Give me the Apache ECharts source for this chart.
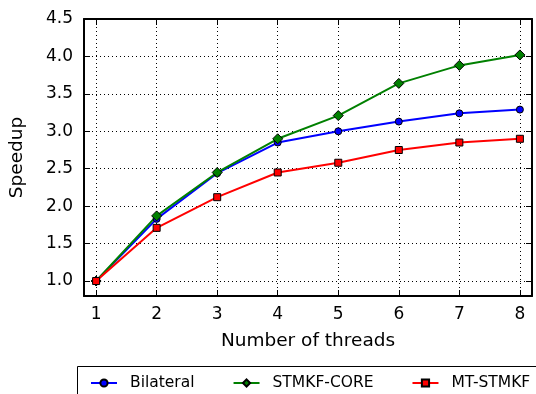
<!DOCTYPE html>
<html>
<head>
<meta charset="utf-8">
<script src="https://cdn.jsdelivr.net/npm/echarts@6/dist/echarts.min.js"></script>
<style>
    html, body { margin: 0; padding: 0; background: #fff; }
    #chart { width: 536px; height: 394px; }
</style>
</head>
<body>
<div id="chart"></div>
<script>
// data
const threads = [1, 2, 3, 4, 5, 6, 7, 8];
const bilateral = [1.0, 1.83, 2.44, 2.85, 3.0, 3.13, 3.24, 3.29];
const stmkfCore = [1.0, 1.87, 2.45, 2.9, 3.21, 3.64, 3.88, 4.02];
const mtStmkf = [1.0, 1.71, 2.12, 2.45, 2.58, 2.75, 2.85, 2.9];
const xTicks = [1, 2, 3, 4, 5, 6, 7, 8];
const yTicks = [1.0, 1.5, 2.0, 2.5, 3.0, 3.5, 4.0, 4.5];

const FONT = 'DejaVu Sans';

const pairs = (ys) => threads.map((x, i) => [x, ys[i]]);

const gridLine = { show: true, lineStyle: { color: '#000', type: [1, 3], width: 1 } };
const frameLine = { show: true, onZero: false, lineStyle: { color: '#000', width: 2 } };

const chart = echarts.init(document.getElementById('chart'));

const option = {
    animation: false,
    grid: { left: 84, right: 4, top: 19, bottom: 98 },
    graphic: [
        {
            type: 'rect',
            shape: { x: 77.5, y: 366.5, width: 470, height: 40 },
            style: { fill: '#fff', stroke: '#000', lineWidth: 1 }
        }
    ],
    legend: {
        left: 85,
        top: 370,
        itemWidth: 26,
        itemHeight: 9,
        itemGap: 38,
        textStyle: { fontFamily: FONT, fontSize: 15.5, color: '#000', padding: [0, 0, 0, 8] },
        data: ['Bilateral', 'STMKF-CORE', 'MT-STMKF']
    },
    xAxis: [
        {
            type: 'value',
            min: 0.8,
            max: 8.2,
            name: 'Number of threads',
            nameLocation: 'middle',
            nameGap: 36,
            nameTextStyle: { fontFamily: FONT, fontSize: 18.5, color: '#000' },
            axisLine: frameLine,
            axisTick: { show: true, inside: true, length: 6, customValues: xTicks, lineStyle: { color: '#000' } },
            axisLabel: { customValues: xTicks, fontFamily: FONT, fontSize: 17, color: '#000', margin: 10 },
            splitLine: gridLine
        },
        {
            type: 'value',
            position: 'top',
            min: 0.8,
            max: 8.2,
            axisLine: frameLine,
            axisTick: { show: true, inside: true, length: 6, customValues: xTicks, lineStyle: { color: '#000' } },
            axisLabel: { show: false, customValues: xTicks },
            splitLine: { show: false }
        }
    ],
    yAxis: [
        {
            type: 'value',
            min: 0.8,
            max: 4.5,
            name: 'Speedup',
            nameLocation: 'middle',
            nameGap: 57,
            nameTextStyle: { fontFamily: FONT, fontSize: 18.5, color: '#000' },
            axisLine: frameLine,
            axisTick: { show: true, inside: true, length: 6, customValues: yTicks, lineStyle: { color: '#000' } },
            axisLabel: {
                customValues: yTicks,
                fontFamily: FONT,
                fontSize: 17,
                color: '#000',
                margin: 11,
                formatter: (v) => v.toFixed(1)
            },
            splitLine: gridLine
        },
        {
            type: 'value',
            position: 'right',
            min: 0.8,
            max: 4.5,
            axisLine: frameLine,
            axisTick: { show: true, inside: true, length: 6, customValues: yTicks, lineStyle: { color: '#000' } },
            axisLabel: { show: false, customValues: yTicks },
            splitLine: { show: false }
        }
    ],
    series: [
        {
            name: 'Bilateral',
            type: 'line',
            data: pairs(bilateral),
            symbol: 'circle',
            symbolSize: 7,
            lineStyle: { color: '#0000ff', width: 2 },
            itemStyle: { color: '#0000ff', borderColor: '#000', borderWidth: 1 }
        },
        {
            name: 'STMKF-CORE',
            type: 'line',
            data: pairs(stmkfCore),
            symbol: 'diamond',
            symbolSize: 10,
            lineStyle: { color: '#008000', width: 2 },
            itemStyle: { color: '#008000', borderColor: '#000', borderWidth: 1 }
        },
        {
            name: 'MT-STMKF',
            type: 'line',
            data: pairs(mtStmkf),
            symbol: 'rect',
            symbolSize: 7,
            lineStyle: { color: '#ff0000', width: 2 },
            itemStyle: { color: '#ff0000', borderColor: '#000', borderWidth: 1 }
        }
    ]
};

chart.setOption(option);
</script>
</body>
</html>
